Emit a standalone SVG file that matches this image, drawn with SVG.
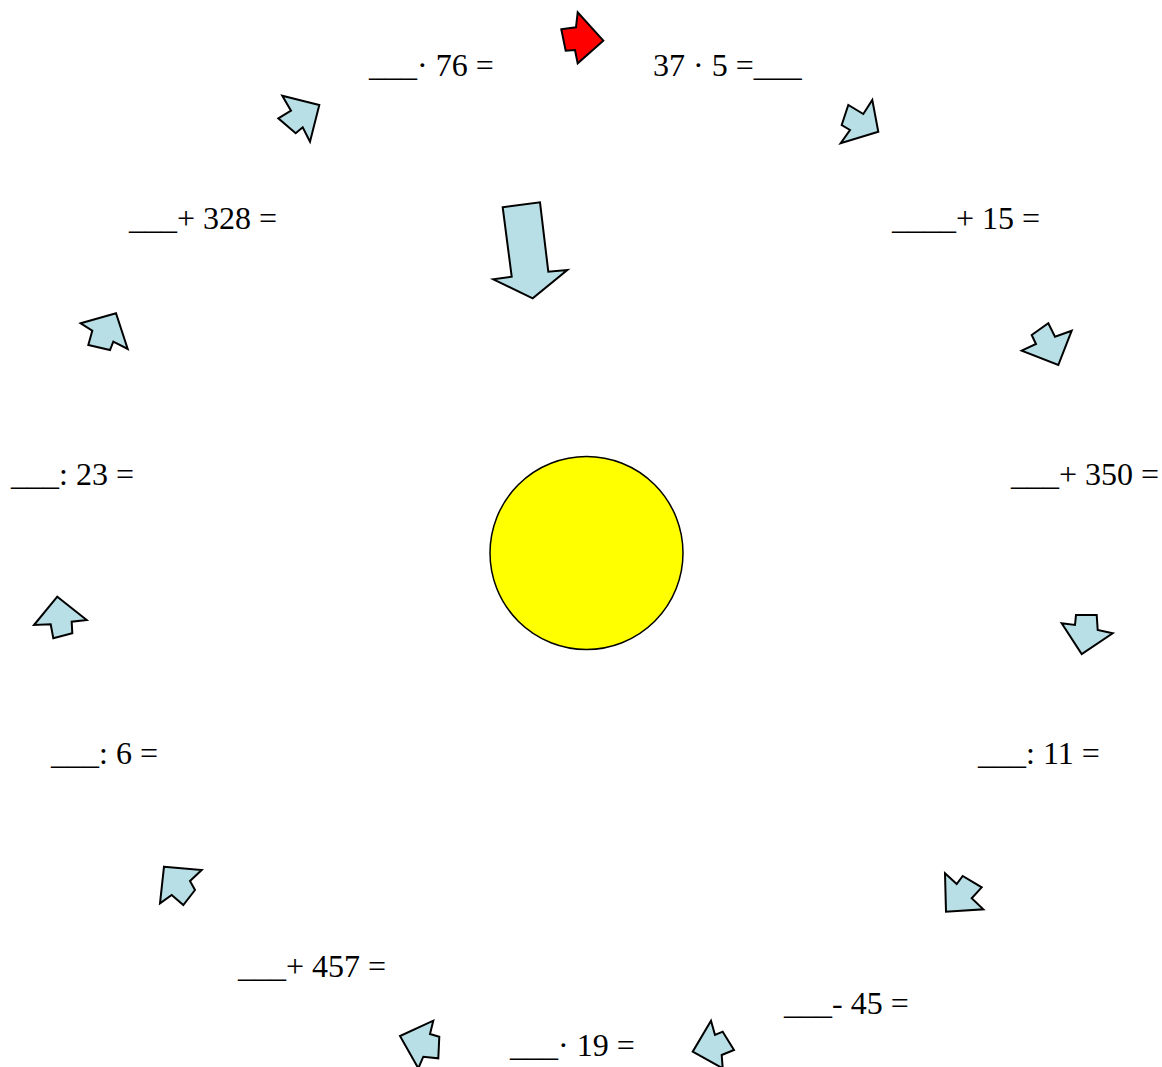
<svg xmlns="http://www.w3.org/2000/svg" width="1162" height="1067" viewBox="0 0 1162 1067">
<style>
text{font-family:"Liberation Serif","Times New Roman",serif;font-size:32px;fill:#000}
.a{fill:#b8dfe5;stroke:#000;stroke-width:2;stroke-linejoin:miter}
.r{fill:#ff0000;stroke:#000;stroke-width:2}
</style>
<rect width="1162" height="1067" fill="#fff"/>
<g id="sun"><circle cx="586.5" cy="553" r="96.5" fill="#ffff00" stroke="#000" stroke-width="1.5"/></g>
<g id="labels">
<text x="369" y="76">___· 76 =</text>
<text x="653" y="76">37 · 5 =___</text>
<text x="129" y="229">___+ 328 =</text>
<text x="892" y="229">____+ 15 =</text>
<text x="11" y="485">___: 23 =</text>
<text x="1011" y="485">___+ 350 =</text>
<text x="51" y="764">___: 6 =</text>
<text x="978" y="764">___: 11 =</text>
<text x="238" y="977">___+ 457 =</text>
<text x="784" y="1014">___- 45 =</text>
<text x="510" y="1056">___· 19 =</text>
</g>
<g id="connectors">
<polygon class="r" points="561.3,29.3 576,27.3 577.7,12.3 603.3,40.7 577.7,63.3 575,50 565.7,50.7"/>
<polygon class="a" points="282.3,95.7 319.3,105 310,141.7 302.7,127.3 295.7,133.3 278.3,118.3 291,110.7"/>
<polygon class="a" points="872.3,100 878.3,131.7 840.7,143.3 850,130 841.7,125 848.3,105 863.3,114"/>
<polygon class="a" points="502.7,207.3 540,202.3 548.3,271.7 567.3,270 532.7,298.3 493.3,279.3 511.7,276.7"/>
<polygon class="a" points="1048.3,323.3 1055,336.7 1071.7,330.7 1058.3,365 1021.7,350.7 1036,344 1031.7,335"/>
<polygon class="a" points="80.7,323.3 116,313.3 127.7,349 113.3,341.7 110,350 88.3,345 92.3,330.7"/>
<polygon class="a" points="57.3,596.7 86.7,620 71.7,621.7 72.3,633.3 53.3,638.3 50.7,624.3 34,625"/>
<polygon class="a" points="1076,615 1096.7,615 1097.7,630 1112.7,633.3 1081.7,654 1061.7,623.3 1075,625"/>
<polygon class="a" points="164,866.7 201.7,870 190,881 195,890 183.3,905 171.7,895 160,903.3"/>
<polygon class="a" points="945,873.3 956.7,884 962.7,876 981.7,887.3 971.7,898.3 983.3,909.3 946,911.7"/>
<polygon class="a" points="433.3,1020.7 430,1034 439.3,1036.7 438.3,1058.3 423.3,1056.7 418.3,1068.3 400,1036"/>
<polygon class="a" points="711,1020.7 715,1035 722.7,1031.7 734,1050 721.7,1055 722.7,1068.3 692.7,1051.7"/>
</g>
</svg>
